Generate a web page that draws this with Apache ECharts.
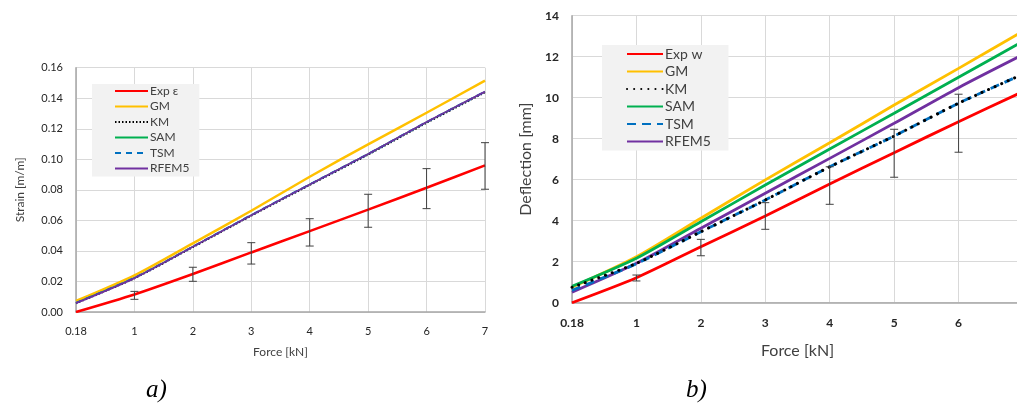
<!DOCTYPE html>
<html><head><meta charset="utf-8">
<script src="https://cdn.jsdelivr.net/npm/echarts@6/dist/echarts.min.js"></script>
<style>html,body{margin:0;padding:0;background:#fff}#c{width:1017px;height:412px}</style>
</head><body><div id="c"></div>
<script>
// Categories (force, kN)
const forceCats = ['0.18','1','2','3','4','5','6','7'];
// Chart a) Strain [m/m]
const strainExp   = [0, 0.0115, 0.0249, 0.039, 0.053, 0.067, 0.0814, 0.096];
const strainErrLo = [null, 0.0083, 0.0201, 0.0314, 0.0432, 0.0555, 0.0677, 0.0804];
const strainErrHi = [null, 0.0135, 0.0293, 0.0454, 0.0611, 0.0771, 0.0939, 0.1109];
const strainGM    = [0.0072, 0.024, 0.045, 0.0663, 0.0886, 0.1098, 0.1305, 0.1515];
const strainKM    = [0.0056, 0.0219, 0.0423, 0.0629, 0.0830, 0.1029, 0.1237, 0.1437];
const strainSAM   = [0.006, 0.0224, 0.0428, 0.0635, 0.0836, 0.1035, 0.1244, 0.1443];
const strainTSM   = [0.006, 0.0224, 0.0428, 0.0635, 0.0836, 0.1035, 0.1244, 0.1443];
const strainRFEM5 = [0.0058, 0.0222, 0.0427, 0.0634, 0.0835, 0.1035, 0.1244, 0.1443];
// Chart b) Deflection [mm]
const deflExp   = [0, 1.22, 2.73, 4.23, 5.79, 7.32, 8.83, 10.3];
const deflErrLo = [null, 1.06, 2.29, 3.58, 4.8, 6.12, 7.34, 8.6];
const deflErrHi = [null, 1.35, 3.09, 4.88, 6.63, 8.46, 10.17, 11.9];
const deflGM    = [0.75, 2.24, 4.12, 5.99, 7.8, 9.64, 11.43, 13.25];
const deflKM    = [0.75, 1.92, 3.46, 5.01, 6.63, 8.13, 9.73, 11.15];
const deflSAM   = [0.8, 2.17, 3.95, 5.74, 7.5, 9.24, 11.0, 12.75];
const deflTSM   = [0.6, 1.9, 3.46, 5.01, 6.63, 8.13, 9.73, 11.15];
const deflRFEM5 = [0.51, 1.92, 3.63, 5.34, 7.04, 8.75, 10.49, 12.1];

const C = {exp:'#FF0000', gm:'#FFC000', km:'#000000', sam:'#00B050', tsm:'#0070C0', rf:'#7030A0'};
const FONT = 'Lato';

function errData(lo, hi){ const d=[]; lo.forEach((v,i)=>{ if(v!=null) d.push([i, v, hi[i]]); }); return d; }
function errSeries(xi, yi, lo, hi){
  return {type:'custom', xAxisIndex:xi, yAxisIndex:yi, silent:true, z:5,
    data: errData(lo,hi), encode:{x:0,y:[1,2]},
    renderItem:function(params, api){
      const x = api.value(0);
      const p1 = api.coord([x, api.value(1)]);
      const p2 = api.coord([x, api.value(2)]);
      const w = 4;
      const st = {stroke:'#404040', lineWidth:1};
      return {type:'group', children:[
        {type:'line', shape:{x1:p1[0],y1:p1[1],x2:p2[0],y2:p2[1]}, style:st},
        {type:'line', shape:{x1:p1[0]-w,y1:p1[1],x2:p1[0]+w,y2:p1[1]}, style:st},
        {type:'line', shape:{x1:p2[0]-w,y1:p2[1],x2:p2[0]+w,y2:p2[1]}, style:st}
      ]};
    }};
}
function line(name, data, xi, yi, color, width, type, z, cap){
  return {name, type:'line', data, xAxisIndex:xi, yAxisIndex:yi, symbol:'none', smooth:0.25,
    z: z||2, lineStyle:{color, width, type: type||'solid', cap: cap||'butt'}, itemStyle:{color}};
}
function xAx(gi, fs, bold, nameGap, nameSize){
  return {type:'category', gridIndex:gi, data:forceCats, boundaryGap:false,
    name:'Force [kN]', nameLocation:'middle', nameGap,
    nameTextStyle:{fontFamily:FONT, fontSize:nameSize, color:'#404040'},
    axisLine:{lineStyle:{color:'#A6A6A6', width:1.5}}, axisTick:{show:false},
    axisLabel:{fontFamily:FONT, fontSize:fs, color:'#262626', fontWeight: bold?'bold':'normal', margin:14},
    splitLine:{show:true, lineStyle:{color:'#D9D9D9', width:1}}};
}
function yAx(gi, name, max, interval, dec, fs, nameGap, nameSize, bold){
  return {type:'value', gridIndex:gi, min:0, max, interval,
    name, nameLocation:'middle', nameGap,
    nameTextStyle:{fontFamily:FONT, fontSize:nameSize, color:'#404040'},
    axisLine:{show:true, lineStyle:{color:'#A6A6A6', width:1.5}}, axisTick:{show:false},
    axisLabel:{fontFamily:FONT, fontSize:fs, color:'#262626', fontWeight: bold?'bold':'normal', margin:13,
      formatter: v => v.toFixed(dec)},
    splitLine:{show:true, lineStyle:{color:'#D9D9D9', width:1}}};
}
const chart = echarts.init(document.getElementById('c'), null, {renderer:'canvas'});
chart.setOption({
  animation:false,
  backgroundColor:'#ffffff',
  grid:[
    {left:76, top:67.7, width:409, height:244.3, outerBoundsMode:'none'},
    {left:572, top:15.7, width:451, height:287, outerBoundsMode:'none'}
  ],
  xAxis:[ xAx(0, 11, false, 34, 12), xAx(1, 12, true, 40, 16) ],
  yAxis:[ yAx(0, 'Strain [m/m]', 0.16, 0.02, 2, 11, 50, 12, false),
          yAx(1, 'Deflection [mm]', 14, 2, 0, 12, 38, 16, true) ],
  legend:[
    {orient:'vertical', left:92, top:84, width:118, padding:[1,10,2,22], itemGap:3.5,
     backgroundColor:'#F2F2F2', itemWidth:33, itemHeight:13,
     itemStyle:{opacity:0},
     textStyle:{fontFamily:FONT, fontSize:12, color:'#404040', padding:[0,0,0,-3]},
     data:['Exp ε','GM','KM','SAM','TSM','RFEM5'].map(n=>({name:n}))},
    {orient:'vertical', left:602, top:45, width:130, padding:[2,14,2,24], itemGap:3.5,
     backgroundColor:'#F2F2F2', itemWidth:36, itemHeight:14,
     itemStyle:{opacity:0},
     textStyle:{fontFamily:FONT, fontSize:14, color:'#404040', padding:[0,0,0,-3]},
     data:['Exp w','GM ','KM ','SAM ','TSM ','RFEM5 '].map(n=>({name:n}))}
  ],
  graphic:[
    {type:'text', left:146, top:378, style:{text:'a)', font:'italic 25px "Liberation Serif"', fill:'#000'}},
    {type:'text', left:686, top:378, style:{text:'b)', font:'italic 25px "Liberation Serif"', fill:'#000'}}
  ],
  series:[
    line('Exp ε', strainExp, 0,0, C.exp, 2.5),
    errSeries(0,0, strainErrLo, strainErrHi),
    line('GM', strainGM, 0,0, C.gm, 2.5),
    line('KM', strainKM, 0,0, C.km, 1.5, [1.5,2]),
    line('SAM', strainSAM, 0,0, C.sam, 1.5),
    line('TSM', strainTSM, 0,0, C.tsm, 2, [6,5]),
    line('RFEM5', strainRFEM5, 0,0, C.rf, 1.8),

    line('Exp w', deflExp, 1,1, C.exp, 2.8),
    errSeries(1,1, deflErrLo, deflErrHi),
    line('GM ', deflGM, 1,1, C.gm, 2.8),
    line('SAM ', deflSAM, 1,1, C.sam, 2.8),
    line('RFEM5 ', deflRFEM5, 1,1, C.rf, 2.8),
    line('TSM ', deflTSM, 1,1, C.tsm, 2.8, [9,6]),
    line('KM ', deflKM, 1,1, C.km, 3, [0.1,7], 3, 'round')
  ]
});
</script></body></html>
